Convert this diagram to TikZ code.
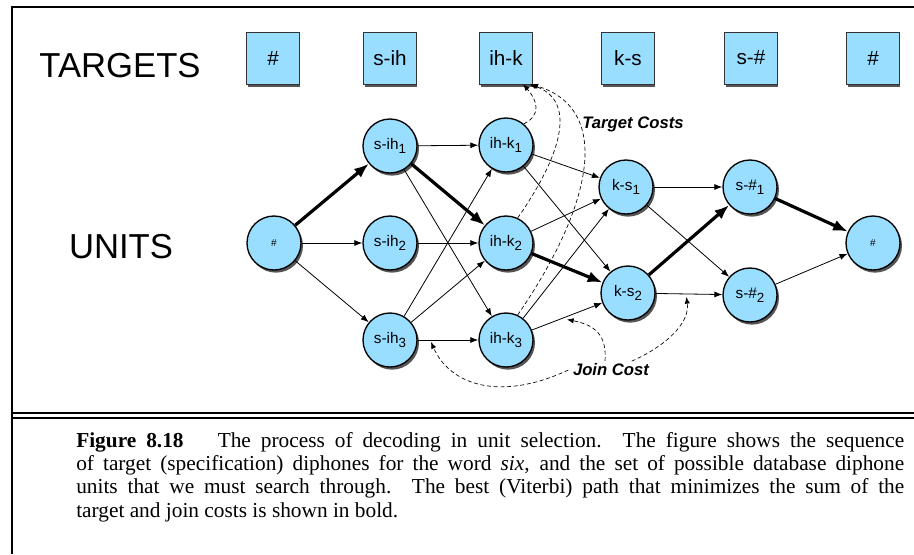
\documentclass[tikz,border=0pt]{standalone}
\usepackage{fontspec}
\setmainfont{Liberation Serif}
\setsansfont{Liberation Sans}
\usetikzlibrary{arrows.meta,shadows,calc}
\definecolor{unitblue}{RGB}{153,221,255}
\definecolor{shadowgray}{RGB}{85,85,85}
\newcommand{\diph}[2]{#1\raisebox{-0.55ex}{\fontsize{10}{10}\selectfont #2}}
\tikzset{
    unit-node/.style = {circle, draw, line width=1pt, fill=unitblue, minimum size=40.5pt, inner sep=0pt, font=\sffamily\fontsize{11.5}{12}\selectfont, drop shadow={shadow xshift=1.5pt, shadow yshift=-2pt, fill=shadowgray, opacity=1}},
    target-box/.style = {rectangle, draw=black!80, line width=0.5pt, fill=unitblue, minimum width=39.5pt, minimum height=39pt, inner sep=0pt, font=\sffamily\fontsize{15.5}{18}\selectfont, drop shadow={shadow xshift=0.8pt, shadow yshift=-2.2pt, fill=shadowgray, opacity=1}},
    side-label/.style = {font=\sffamily\fontsize{26}{30}\selectfont},
    hop/.style = {line width=0.6pt, -{Latex[length=6pt,width=4.5pt]}},
    best-hop/.style = {line width=2.4pt, -{Latex[length=11pt,width=8.5pt]}},
    cost-link/.style = {dash pattern=on 3pt off 2pt, line width=0.5pt, -{Latex[length=5pt,width=4pt]}},
    cost-label/.style = {font=\sffamily\bfseries\itshape\fontsize{12.5}{14}\selectfont},
}

\begin{document}
\begin{tikzpicture}[x=0.75pt, y=-0.75pt]
\useasboundingbox (0,0) rectangle (914,554);

% frame
\draw[line width=1.5pt] (12,554) -- (12,7) -- (914,7);
\draw[line width=2pt] (12,413) -- (914,413);
\draw[line width=1.2pt] (12,418) -- (914,418);

% targets row
\node[side-label] (targets-label) at (120,66) {TARGETS};
\node[target-box] (t-start) at (273,58) {\#};
\node[target-box] (t-sih) at (390,58) {s-ih};
\node[target-box] (t-ihk) at (506,58) {ih-k};
\node[target-box] (t-ks) at (628,58) {k-s};
\node[target-box] (t-sx) at (751,58) {s-\#};
\node[target-box] (t-end) at (873,58) {\#};

% units lattice
\node[side-label] (units-label) at (121,247) {UNITS};
\node[unit-node, font=\sffamily\fontsize{7.5}{9}\selectfont] (u-start) at (274,243) {\#};
\node[unit-node] (sih1) at (390,146) {\diph{s-ih}{1}};
\node[unit-node] (sih2) at (390,243) {\diph{s-ih}{2}};
\node[unit-node] (sih3) at (390,340) {\diph{s-ih}{3}};
\node[unit-node] (ihk1) at (506,145) {\diph{ih-k}{1}};
\node[unit-node] (ihk2) at (506,243) {\diph{ih-k}{2}};
\node[unit-node] (ihk3) at (506,340) {\diph{ih-k}{3}};
\node[unit-node] (ks1) at (626,187) {\diph{k-s}{1}};
\node[unit-node] (ks2) at (628,293) {\diph{k-s}{2}};
\node[unit-node] (sx1) at (750,187) {\diph{s-\#}{1}};
\node[unit-node] (sx2) at (750,295) {\diph{s-\#}{2}};
\node[unit-node, font=\sffamily\fontsize{7.5}{9}\selectfont] (u-end) at (873,243) {\#};

\draw[best-hop] (u-start) -- (sih1);
\draw[hop] (u-start) -- (sih2);
\draw[hop] (u-start) -- (sih3);

\draw[hop] (sih1) -- (ihk1);
\draw[best-hop] (sih1) -- (ihk2);
\draw[hop] (sih1) -- (ihk3);
\draw[hop] (sih2) -- (ihk2);
\draw[hop] (sih3) -- (ihk1);
\draw[hop] (sih3) -- (ihk2);
\draw[hop] (sih3) -- coordinate[pos=0.22] (jc-a) (ihk3);

\draw[hop] (ihk1) -- (ks1);
\draw[hop] (ihk1) -- (ks2);
\draw[hop] (ihk2) -- (ks1);
\draw[best-hop] (ihk2) -- (ks2);
\draw[hop] (ihk3) -- (ks1);
\draw[hop] (ihk3) -- coordinate[pos=0.5] (jc-b) (ks2);

\draw[hop] (ks1) -- (sx1);
\draw[hop] (ks1) -- (sx2);
\draw[best-hop] (ks2) -- (sx1);
\draw[hop] (ks2) -- coordinate[pos=0.46] (jc-c) (sx2);

\draw[best-hop] (sx1) -- (u-end);
\draw[hop] (sx2) -- (u-end);

% target costs
\node[cost-label] (target-costs) at (633,124) {Target Costs};
\draw[cost-link] (ihk1.50) .. controls (542,115) and (537,100) .. (t-ihk.-57);
\draw[cost-link] (ihk2.65) .. controls (565,150) and (575,100) .. (t-ihk.-48);
\draw[cost-link] (ihk3.65) .. controls (590,210) and (615,110) .. (t-ihk.-46);

% join costs
\node[cost-label] (join-cost) at (611,370) {Join Cost};
\draw[cost-link] (join-cost.west) .. controls (500,402) and (450,385) .. ($(jc-a)+(0,2)$);
\draw[cost-link] ($(join-cost.north)+(-6,2)$) .. controls (607,335) and (595,325) .. ($(jc-b)+(0,3)$);
\draw[cost-link] ($(join-cost.north east)+(-22,2)$) .. controls (668,345) and (690,322) .. ($(jc-c)+(0,3)$);

% caption
\node[anchor=north west, text width=621pt, align=justify, inner sep=0pt, font=\fontsize{16}{17.5}\selectfont] (caption) at (76,432) {\textbf{Figure 8.18}\hspace{1.6em}The process of decoding in unit selection. The figure shows the sequence\linebreak of target (specification) diphones for the word \textit{six}, and the set of possible database diphone\linebreak units that we must search through. The best (Viterbi) path that minimizes the sum of the\linebreak target and join costs is shown in bold.};
\end{tikzpicture}
\end{document}
